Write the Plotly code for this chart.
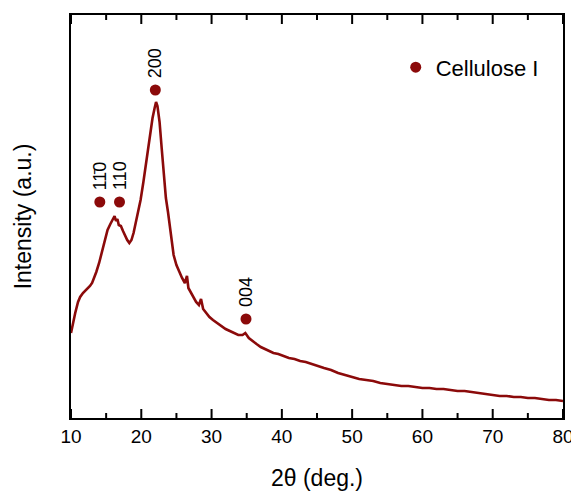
import plotly.graph_objects as go

# XRD pattern (2theta in degrees, intensity in arbitrary units)
two_theta = [10.0, 10.3, 10.6, 11.0, 11.3, 11.7, 12.0, 12.4, 12.7, 13.0, 13.3, 13.6,
             14.0, 14.4, 14.8, 15.2, 15.6, 16.0, 16.2, 16.4, 16.6, 16.8, 17.1, 17.4,
             17.7, 18.0, 18.3, 18.6, 18.9, 19.2, 19.5, 19.9, 20.3, 20.7, 21.0, 21.3,
             21.6, 21.9, 22.1, 22.3, 22.6, 22.9, 23.2, 23.5, 23.8, 24.0, 24.3, 24.6,
             25.0, 25.4, 25.8, 26.2, 26.5, 26.7, 27.0, 27.4, 27.8, 28.2, 28.5, 28.8,
             29.2, 29.7, 30.2, 30.8, 31.4, 32.0, 32.6, 33.2, 33.8, 34.4, 34.8, 35.3,
             35.8, 36.4, 37.0, 37.6, 38.2, 38.8, 39.5, 40.2, 41.0, 41.8, 42.6, 43.4,
             44.2, 45.0, 46.0, 47.0, 48.0, 49.0, 50.0, 51.0, 52.0, 53.0, 54.0, 55.0,
             56.0, 57.0, 58.0, 59.0, 60.0, 61.0, 62.0, 63.0, 64.0, 65.0, 66.0, 67.0,
             68.0, 69.0, 70.0, 71.0, 72.0, 73.0, 74.0, 75.0, 76.0, 77.0, 78.0, 79.0, 80.0]
intensity = [85, 96, 105, 116, 121, 125, 127, 130, 132, 135, 140, 146,
             155, 166, 178, 188, 194, 199, 202, 197, 199, 193, 192, 187,
             182, 178, 175, 178, 185, 194, 204, 218, 236, 256, 270, 288,
             300, 310, 316, 312, 296, 270, 243, 220, 206, 196, 178, 163,
             153, 146, 140, 135, 142, 130, 126, 120, 116, 113, 119, 109,
             105, 101, 98, 95, 92, 89, 87, 85, 83, 83, 85, 80,
             77, 74, 71, 69, 67, 65, 64, 62, 60, 59, 57, 56,
             54, 52, 50, 48, 45, 43, 41, 39, 38, 37, 35, 34,
             33, 32, 32, 31, 30, 30, 29, 29, 28, 27, 27, 26,
             25, 24, 23, 22, 22, 21, 21, 20, 20, 19, 18, 18, 17]

# Cellulose I reflections
peak_pos = [14.1, 16.9, 22.0, 34.9]
peak_marker_int = [216, 216, 328, 99]
peak_labels = ["11\u03040", "110", "200", "004"]

major_ticks = [10, 20, 30, 40, 50, 60, 70, 80]
minor_ticks = [15, 25, 35, 45, 55, 65, 75]

Y_MAX = 403
RED = "#8B0A0A"
FONT = "Arial, Liberation Sans, sans-serif"

fig = go.Figure()
fig.add_trace(go.Scatter(x=two_theta, y=intensity, mode="lines",
                         line=dict(color=RED, width=2.6), showlegend=False,
                         hoverinfo="skip"))
fig.add_trace(go.Scatter(x=peak_pos, y=peak_marker_int, mode="markers",
                         marker=dict(color=RED, size=11), name="Cellulose I",
                         showlegend=True))

# inward tick marks on bottom and top frame, drawn as line segments through the axes' scales
tx, ty = [], []
for tick_list, tlen in ((major_ticks, 9), (minor_ticks, 5)):
    for tv in tick_list:
        tx += [tv, tv, None, tv, tv, None]
        ty += [0, tlen, None, Y_MAX, Y_MAX - tlen, None]
fig.add_trace(go.Scatter(x=tx, y=ty, mode="lines", line=dict(color="black", width=2),
                         showlegend=False, hoverinfo="skip", cliponaxis=False))

for xp, yp, lab in zip(peak_pos, peak_marker_int, peak_labels):
    fig.add_annotation(x=xp, y=yp, text=lab, textangle=-90, showarrow=False,
                       xanchor="center", yanchor="bottom", yshift=10,
                       font=dict(family=FONT, size=18, color="black"))

# page body has an 8px margin, so the figure is sized to fill the rest
fig.update_layout(
    width=571, height=488,
    margin=dict(l=63, r=16, t=7, b=78, autoexpand=False),
    paper_bgcolor="white", plot_bgcolor="white",
    font=dict(family=FONT, color="black"),
    legend=dict(x=0.66, y=0.922, xanchor="left", yanchor="top",
                font=dict(family=FONT, size=22, color="black"),
                bgcolor="rgba(0,0,0,0)", itemwidth=30),
    xaxis=dict(range=[10, 80], tickvals=major_ticks, ticks="",
               showline=True, linewidth=1.5, linecolor="black", mirror=True,
               showgrid=False, zeroline=False, automargin=False,
               tickfont=dict(family=FONT, size=19),
               title=dict(text="2\u03b8 (deg.)", font=dict(family=FONT, size=23),
                          standoff=24)),
    yaxis=dict(range=[0, Y_MAX], showticklabels=False, ticks="", showline=True,
               linewidth=1.5, linecolor="black", mirror=True, showgrid=False,
               zeroline=False, automargin=False,
               title=dict(text="Intensity (a.u.)", font=dict(family=FONT, size=23),
                          standoff=31)),
)

fig.write_html("out.html")
